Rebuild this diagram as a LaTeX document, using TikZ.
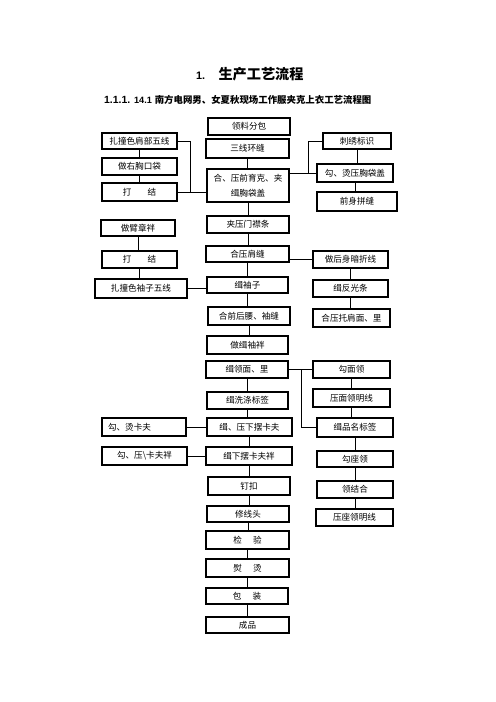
\documentclass[tikz,border=0pt]{standalone}
\usepackage{fontspec}
\setmainfont{Liberation Sans}
\newfontfamily\cjk{Noto Sans CJK SC}
\newcommand\bx[6]{\node[box, minimum width={(#4-#2)*1.2pt}, minimum height={(#5-#3)*1.2pt}] (#1) at ({(#2+#4)/2},{(#3+#5)/2}) {#6};}
\newcommand\vl[2]{\draw[conn] (#1.south) -- (#1.south |- #2.north);}
\begin{document}
\begin{tikzpicture}[x=1.2pt,y=-1.2pt,
  box/.style={draw, line width=1.3pt, inner sep=0pt, outer sep=0pt, font=\cjk\fontsize{10.3pt}{18pt}\selectfont, align=center},
  conn/.style={line width=1.2pt}]
\useasboundingbox[fill=white] (0,0) rectangle (496,702);
% titles
\node[anchor=west, inner sep=0pt, font=\bfseries\fontsize{13pt}{15pt}\selectfont] (t1) at (196,74) {1.\hspace{16pt}{\cjk\fontsize{17pt}{19pt}\selectfont 生产工艺流程}};
\node[anchor=west, inner sep=0pt, font=\bfseries\fontsize{12.5pt}{15pt}\selectfont] (t2) at (104,100) {1.1.1. {\fontsize{11pt}{13pt}\selectfont 14.1} {\cjk\fontsize{11.3pt}{13pt}\selectfont 南方电网男、女夏秋现场工作服夹克上衣工艺流程图}};
% middle column
\bx{M1}{208}{118}{290}{135}{领料分包}
\bx{M2}{206}{139}{289}{158}{三线环缝}
\bx{M3}{207}{169}{289}{202}{合、压前育克、夹\\缉胸袋盖}
\bx{M4}{207}{216}{289}{233}{夹压门襟条}
\bx{M5}{206}{246}{289}{262}{合压肩缝}
\bx{M6}{207}{277}{288}{293}{缉袖子}
\bx{M7}{208}{307}{290}{325}{合前后腰、袖缝}
\bx{M8}{207}{336}{288}{354}{做缉袖袢}
\bx{M9}{206}{361}{288}{378}{缉领面、里}
\bx{M10}{207}{392}{288}{409}{缉洗涤标签}
\bx{M11}{207}{418}{292}{436}{缉、压下摆卡夫}
\bx{M12}{206}{447}{292}{465}{缉下摆卡夫袢}
\bx{M13}{208}{477}{290}{495}{钉扣}
\bx{M14}{207}{506}{289}{522}{修线头}
\bx{M15}{206}{531}{289}{549}{检\hspace{1.3em}验}
\bx{M16}{206}{559}{289}{577}{熨\hspace{1.3em}烫}
\bx{M17}{206}{588}{288}{604}{包\hspace{1.3em}装}
\bx{M18}{206}{617}{289}{633}{成品}
% left column
\bx{L1}{102}{133}{177}{149}{扎撞色肩部五线}
\bx{L2}{102}{158}{177}{175}{做右胸口袋}
\bx{L3}{102}{183}{177}{201}{打\hspace{1.9em}结}
\bx{L4}{101}{220}{175}{236}{做臂章袢}
\bx{L5}{102}{251}{177}{268}{打\hspace{1.9em}结}
\bx{L6}{95}{279}{187}{298}{扎撞色袖子五线}
\bx{L7}{102}{418}{186}{436}{\makebox[100pt][l]{\hspace{6.8pt}勾、烫卡夫}}
\bx{L8}{102}{447}{187}{465}{勾、压\textbackslash 卡夫袢}
% right column
\bx{R1}{323}{133}{391}{149}{刺绣标识}
\bx{R2}{317}{164}{393}{182}{勾、烫压胸袋盖}
\bx{R3}{317}{192}{397}{211}{前身拼缝}
\bx{R4}{313}{251}{388}{268}{做后身暗折线}
\bx{R5}{313}{280}{388}{297}{缉反光条}
\bx{R6}{313}{309}{390}{327}{合压托肩面、里}
\bx{R7}{313}{361}{390}{378}{勾面领}
\bx{R8}{313}{389}{390}{407}{压面领明线}
\bx{R9}{317}{418}{393}{437}{缉品名标签}
\bx{R10}{317}{451}{393}{467}{勾座领}
\bx{R11}{317}{481}{393}{498}{领结合}
\bx{R12}{316}{509}{393}{526}{压座领明线}
% middle chain
\vl{M2}{M3}\vl{M3}{M4}\vl{M4}{M5}\vl{M5}{M6}\vl{M6}{M7}\vl{M7}{M8}
\vl{M9}{M10}\vl{M10}{M11}\vl{M11}{M12}\vl{M12}{M13}\vl{M13}{M14}
\vl{M14}{M15}\vl{M15}{M16}\vl{M16}{M17}\vl{M17}{M18}
% left chains
\vl{L1}{L2}\vl{L2}{L3}\vl{L4}{L5}\vl{L5}{L6}
% right chains
\vl{R1}{R2}\vl{R2}{R3}\vl{R4}{R5}\vl{R5}{R6}
\vl{R7}{R8}\vl{R8}{R9}\vl{R9}{R10}\vl{R10}{R11}\vl{R11}{R12}
% junctions
\coordinate (jL1) at (190,0);
\draw[conn] (L1.east) -| (jL1 |- L3.east);
\draw[conn] (L3.east) -- (L3.east -| M3.west);
\coordinate (jR1) at (308,0);
\draw[conn] (R2.west -| M3.east) -- (R2.west);
\draw[conn] (jR1 |- R2.west) |- (R1.west);
\draw[conn] (L6.east) -- (L6.east -| M6.west);
\draw[conn] (M5.east |- R4.west) -- (R4.west);
\coordinate (jR3) at (301,0);
\draw[conn] (M9.east) -- (M9.east -| R7.west);
\draw[conn] (jR3 |- M9.east) |- (R9.west);
\draw[conn] (L7.east) -- (L7.east -| M11.west);
\draw[conn] (L8.east) -- (L8.east -| M12.west);
\end{tikzpicture}
\end{document}
